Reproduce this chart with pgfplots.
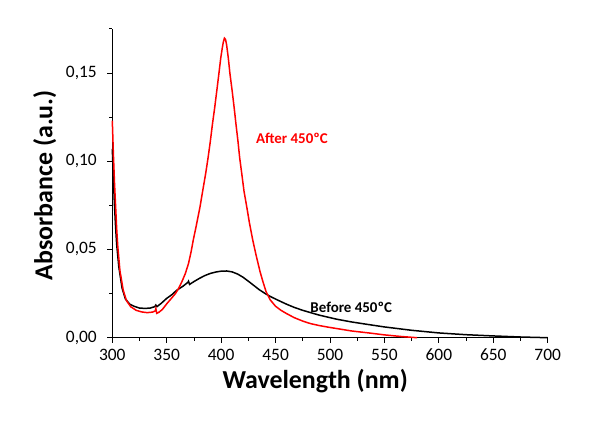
\documentclass[border=0pt]{standalone}
\usepackage{fontspec}
\setmainfont{Carlito}
\usepackage{pgfplots}
\pgfplotsset{compat=1.18}

\begin{document}
\begin{tikzpicture}[x=1bp,y=1bp]
\useasboundingbox (0,0) rectangle (600,424);
\begin{axis}[
    at={(112.3bp,86.3bp)}, anchor=south west,
    scale only axis, width=435.4bp, height=308.9bp,
    xmin=300, xmax=700, ymin=0, ymax=0.175,
    axis lines=left, axis line style={-, line width=1bp},
    tick align=outside, major tick length=5bp, minor tick length=3bp,
    xtick={300,350,...,700}, ytick={0,0.05,0.1,0.15},
    minor x tick num=1, minor y tick num=1,
    extra y ticks={0.175}, extra y tick labels={},
    extra y tick style={major tick length=3bp},
    tick style={black, line width=0.8bp},
    ticklabel style={font=\fontsize{17.5}{17.5}\selectfont},
    /pgf/number format/assume math mode=true,
    scaled y ticks=false,
    yticklabel style={xshift=-7bp, /pgf/number format/.cd, fixed, fixed zerofill, precision=2, use comma},
    xticklabel style={yshift=-2.5bp, /pgf/number format/1000 sep={}},
    xlabel={Wavelength (nm)}, ylabel={Absorbance (a.u.)},
    label style={font=\bfseries\fontsize{26}{26}\selectfont},
    xlabel style={at={(axis description cs:0.466,-0.14)}, anchor=center},
    ylabel style={at={(axis description cs:-0.155,0.494)}, anchor=center},
    clip=false,
]
% Before 450 C
\addplot[black, line width=1.5bp] coordinates {
(300,0.107)(301,0.090)(302,0.075)(303,0.063)(304,0.053)(306,0.040)(309,0.028)
(312,0.022)(316,0.019)(320,0.0178)(325,0.0168)(330,0.0166)(335,0.0168)
(339,0.0176)(340,0.0185)(341,0.0176)(345,0.0195)(350,0.0223)(355,0.0245)
(359,0.0268)(365,0.0292)(369.5,0.0314)(370,0.0320)(371,0.0302)(375,0.0318)
(380,0.0336)(385,0.0352)(390,0.0364)(395,0.0372)(400,0.0377)(405,0.0378)
(410,0.0373)(415,0.0361)(420,0.0343)(425,0.0320)(430,0.0296)(435,0.0272)
(441,0.0248)(445,0.0234)(452,0.0213)(460,0.0190)(467,0.0172)(475,0.0155)
(490,0.0128)(506,0.0105)(520,0.0089)(537,0.0073)(550,0.0061)(575,0.0042)
(600,0.0027)(625,0.0017)(650,0.0010)(675,0.0004)(700,0.0)
};
% After 450 C
\addplot[red, line width=1.5bp] coordinates {
(300,0.123)(301,0.104)(302,0.088)(303,0.075)(304,0.062)(305,0.052)(307,0.038)
(310,0.027)(313,0.021)(317,0.0175)(322,0.0155)(327,0.0146)(332,0.0142)
(337,0.0145)(339.5,0.0152)(340,0.0165)(340.8,0.0138)(343,0.0145)(346,0.0160)
(350,0.0192)(355,0.0228)(358,0.0250)(361,0.0280)(364,0.0318)(367,0.0362)
(370,0.0420)(372.5,0.0490)(374.4,0.0554)(377,0.0630)(380.6,0.0742)(383,0.0830)
(385.8,0.0931)(388,0.1020)(390,0.1110)(392,0.1210)(394,0.1300)(395.9,0.1394)
(398,0.1500)(399.6,0.1583)(401,0.1640)(402,0.1675)(403,0.1697)(404,0.1690)
(405,0.1660)(406.6,0.1583)(408,0.1500)(410.2,0.1394)(412,0.1300)(413.8,0.1200)
(415.5,0.1110)(417,0.1020)(418.9,0.0931)(421,0.0830)(423.5,0.0742)(426,0.0650)
(429,0.0554)(432,0.0470)(435.7,0.0375)(438.5,0.0315)(441.2,0.0262)(445,0.0215)
(450,0.0178)(455,0.0155)(460,0.0137)(467,0.0114)(475,0.0094)(482,0.0080)
(490,0.0069)(498,0.0060)(506,0.0052)(520,0.0038)(537,0.0026)(550,0.0016)
(565,0.0007)(580,0.0)
};
\node[text=red, font=\bfseries\fontsize{15}{15}\selectfont] at (axis cs:465,0.113) {After 450ºC};
\node[text=black, font=\bfseries\fontsize{15}{15}\selectfont] at (axis cs:519.5,0.0174) {Before 450ºC};
\end{axis}
\end{tikzpicture}
\end{document}
